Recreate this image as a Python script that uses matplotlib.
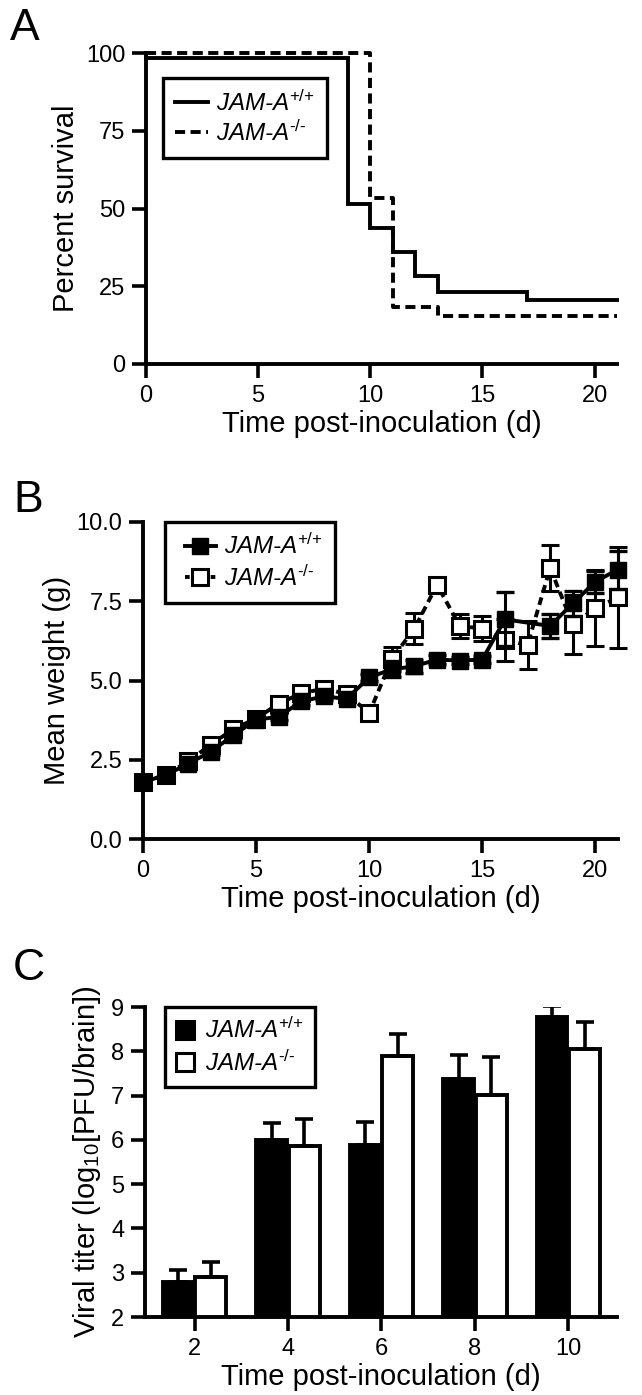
import numpy as np
import matplotlib
matplotlib.use("Agg")
import matplotlib.pyplot as plt
from matplotlib.legend_handler import HandlerLine2D
from matplotlib.patches import Patch
from matplotlib.lines import Line2D

plt.rcParams['font.family'] = ['Liberation Sans', 'DejaVu Sans']
plt.rcParams['mathtext.fontset'] = 'custom'
plt.rcParams['mathtext.rm'] = 'Liberation Sans'
plt.rcParams['mathtext.it'] = 'Liberation Sans:italic'
plt.rcParams['mathtext.bf'] = 'Liberation Sans:bold'

# ---------------- data ----------------
# Panel A: Kaplan-Meier survival (step after each day)
surv_days = [0, 9, 10, 11, 12, 13, 17, 21]
surv_wt = [98.5, 51.3, 43.6, 35.9, 28.2, 23.1, 20.5, 20.5]
surv_ko_days = [0, 10, 11, 13, 21]
surv_ko = [100, 53.3, 18.4, 15.3, 15.3]

# Panel B: mean weight
wt_days = [0, 1, 2, 3, 4, 5, 6, 7, 8, 9, 10, 11, 12, 13, 14, 15, 16, 18, 19, 20, 21]
wt_weight = [1.80, 2.01, 2.38, 2.75, 3.28, 3.76, 3.86, 4.34, 4.50, 4.42, 5.10,
             5.35, 5.45, 5.66, 5.63, 5.66, 6.93, 6.72, 7.43, 8.12, 8.50]
wt_err = [0.10, 0.10, 0.10, 0.10, 0.10, 0.10, 0.10, 0.10, 0.10, 0.10, 0.10,
          0.25, 0.20, 0.15, 0.10, 0.10, 0.85, 0.37, 0.40, 0.35, 0.60]
ko_days = list(range(0, 22))
ko_weight = [1.80, 2.02, 2.45, 2.98, 3.47, 3.80, 4.27, 4.60, 4.74, 4.58, 3.97,
             5.68, 6.64, 8.02, 6.72, 6.64, 6.27, 6.12, 8.55, 6.77, 7.28, 7.62]
ko_err = [0.10, 0.10, 0.10, 0.10, 0.10, 0.10, 0.10, 0.10, 0.10, 0.10, 0.10,
          0.38, 0.48, 0.15, 0.38, 0.40, 0.66, 0.76, 0.72, 0.92, 1.20, 1.60]

# Panel C: viral titer
titer_days = ['2', '4', '6', '8', '10']
titer_wt = [2.80, 6.00, 5.88, 7.38, 8.78]
titer_wt_err = [0.26, 0.38, 0.52, 0.53, 0.25]
titer_ko = [2.91, 5.86, 7.90, 7.02, 8.06]
titer_ko_err = [0.34, 0.60, 0.49, 0.85, 0.60]

lab_wt = r'JAM-A$^{\text{+/+}}$'
lab_ko = r'JAM-A$^{\text{-/-}}$'

W, H = 642, 1395
fig = plt.figure(figsize=(W / 100, H / 100), dpi=100)


def ax_at(l, t, r, b):
    return fig.add_axes([l / W, 1 - b / H, (r - l) / W, (b - t) / H])


TICK_FS = 17
LAB_FS = 21
LEG_FS = 17.5
SP_LW = 2.8


def style(ax):
    for s in ['top', 'right']:
        ax.spines[s].set_visible(False)
    for s in ['left', 'bottom']:
        ax.spines[s].set_linewidth(SP_LW)
        ax.spines[s].set_capstyle('projecting')
    ax.tick_params(direction='out', length=10, width=2.6, labelsize=TICK_FS,
                   pad=5, color='black')


def style_legend(leg):
    fr = leg.get_frame()
    fr.set_edgecolor('black')
    fr.set_linewidth(2.4)
    fr.set_alpha(1)
    fr.set_facecolor('white')


class LeftMarkerHandler(HandlerLine2D):
    def get_xdata(self, legend, xdescent, ydescent, width, height, fontsize):
        xdata = np.array([-xdescent + 0.2 * width, -xdescent + width])
        xmark = np.array([-xdescent + 0.2 * width])
        return xdata, xmark


# ---------------- Panel A ----------------
axA = ax_at(146, 53, 617, 364)
style(axA)
axA.step(surv_days, surv_wt, where='post', color='black', lw=2.8,
         solid_joinstyle='miter', label=lab_wt, clip_on=False)
axA.step(surv_ko_days, surv_ko, where='post', color='black', lw=2.8,
         linestyle=(0, (2.6, 1.4)), label=lab_ko, clip_on=False)
axA.set_xlim(0, 21)
axA.set_ylim(0, 100)
axA.set_xticks([0, 5, 10, 15, 20])
axA.set_yticks([0, 25, 50, 75, 100])
axA.set_ylabel('Percent survival', fontsize=LAB_FS, labelpad=4)
axA.set_xlabel('Time post-inoculation (d)', fontsize=LAB_FS, labelpad=2)
legA = axA.legend(loc='upper left', bbox_to_anchor=(0.036, 0.919),
                  borderaxespad=0, frameon=True, fancybox=False, framealpha=1,
                  handlelength=1.35, handletextpad=0.35, labelspacing=0.2,
                  borderpad=0.5, prop={'style': 'italic', 'size': LEG_FS})
style_legend(legA)

# ---------------- Panel B ----------------
axB = ax_at(143, 522, 618, 839)
style(axB)
axB.errorbar(ko_days, ko_weight, yerr=ko_err, color='black', lw=2.8,
             linestyle=(0, (2.0, 1.3)), marker='s', markersize=11,
             mfc='white', mec='black', mew=2.2, ecolor='black',
             elinewidth=2.2, capsize=6.5, capthick=2.4,
             clip_on=False, zorder=3)
axB.errorbar(wt_days, wt_weight, yerr=wt_err, color='black', lw=2.8,
             marker='s', markersize=12, mfc='black', mec='black',
             ecolor='black', elinewidth=2.2, capsize=6.5, capthick=2.4,
             clip_on=False, zorder=4)
axB.set_xlim(0, 21)
axB.set_ylim(0, 10)
axB.set_xticks([0, 5, 10, 15, 20])
axB.set_yticks([0, 2.5, 5.0, 7.5, 10.0])
axB.set_yticklabels(['0.0', '2.5', '5.0', '7.5', '10.0'])
axB.set_ylabel('Mean weight (g)', fontsize=LAB_FS, labelpad=4)
axB.set_xlabel('Time post-inoculation (d)', fontsize=LAB_FS, labelpad=2)
h_wt = Line2D([], [], color='black', lw=2.8, marker='s', markersize=12,
              mfc='black', mec='black')
h_ko = Line2D([], [], color='black', lw=2.8, linestyle=(0, (1.2, 1.0)),
              marker='s', markersize=11, mfc='white', mec='black', mew=2.2)
legB = axB.legend([h_wt, h_ko], [lab_wt, lab_ko], loc='upper left',
                  bbox_to_anchor=(0.046, 1.0), borderaxespad=0, frameon=True,
                  fancybox=False, framealpha=1, handlelength=1.6,
                  handletextpad=0.35, labelspacing=0.25, borderpad=0.5,
                  numpoints=1, prop={'style': 'italic', 'size': LEG_FS},
                  handler_map={Line2D: LeftMarkerHandler(numpoints=1)})
style_legend(legB)

# ---------------- Panel C ----------------
axC = ax_at(145, 1007, 617, 1317)
style(axC)
xc = np.arange(len(titer_days))
bw = 0.33
axC.bar(xc - bw / 2 - 0.01, np.array(titer_wt) - 2, bw, bottom=2, color='black',
        edgecolor='black', linewidth=2.8, yerr=[[0] * 5, titer_wt_err],
        error_kw=dict(elinewidth=2.6, capsize=6.5, capthick=2.6, ecolor='black'),
        zorder=3)
axC.bar(xc + bw / 2 + 0.01, np.array(titer_ko) - 2, bw, bottom=2, color='white',
        edgecolor='black', linewidth=2.8, yerr=[[0] * 5, titer_ko_err],
        error_kw=dict(elinewidth=2.6, capsize=6.5, capthick=2.6, ecolor='black'),
        zorder=3)
axC.set_xlim(-0.53, 4.52)
axC.set_ylim(2, 9)
axC.set_xticks(xc)
axC.set_xticklabels(titer_days)
axC.set_yticks(range(2, 10))
axC.set_ylabel('Viral titer (log$_{10}$[PFU/brain])', fontsize=LAB_FS, labelpad=6)
axC.set_xlabel('Time post-inoculation (d)', fontsize=LAB_FS, labelpad=2)
hC1 = Patch(facecolor='black', edgecolor='black', linewidth=2.2)
hC2 = Patch(facecolor='white', edgecolor='black', linewidth=2.2)
legC = axC.legend([hC1, hC2], [lab_wt, lab_ko], loc='upper left',
                  bbox_to_anchor=(0.042, 1.0), borderaxespad=0, frameon=True,
                  fancybox=False, framealpha=1, handlelength=0.75,
                  handleheight=0.75, handletextpad=0.45, labelspacing=0.3,
                  borderpad=0.45, prop={'style': 'italic', 'size': LEG_FS})
style_legend(legC)

# panel letters
for letter, (px, py) in zip('ABC', [(10, 8), (13, 480), (13, 948)]):
    fig.text(px / W, 1 - py / H, letter, fontsize=32, va='top', ha='left')

fig.savefig('out.png', dpi=100)
